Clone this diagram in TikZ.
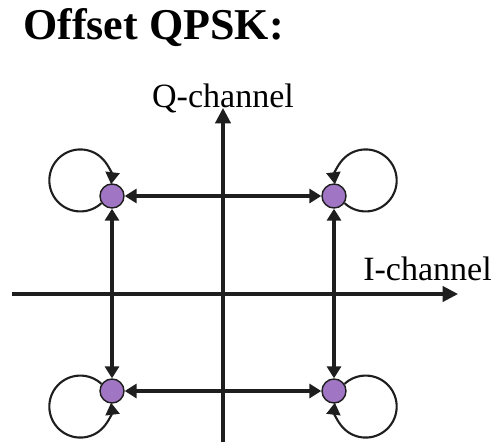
\documentclass[tikz,border=0pt]{standalone}
\usepackage{fontspec}
\setmainfont{Liberation Serif}
\usepackage{xcolor}
\usetikzlibrary{arrows.meta}
\definecolor{dotpurple}{HTML}{A076C4}
\definecolor{inkgray}{HTML}{1E1E1E}

\begin{document}
\begin{tikzpicture}[
  x=0.025cm, y=-0.025cm,
  dot/.style={circle, draw=inkgray, line width=1pt, fill=dotpurple,
              minimum size=0.6cm, inner sep=0pt},
  lbl/.style={font=\fontsize{24.2}{29}\selectfont, inner sep=0pt},
  head/.style={font=\bfseries\fontsize{31.3}{37}\selectfont, inner sep=0pt},
  axis/.style={-{Triangle[length=11pt, width=11pt]}, line width=2.2pt, color=inkgray},
  link/.style={{Triangle[length=8.5pt, width=10pt]}-{Triangle[length=8.5pt, width=10pt]},
               line width=2.2pt, color=inkgray},
  selfloop/.style={-{Triangle[length=8.5pt, width=10pt]}, line width=1.5pt, color=inkgray}
]
\useasboundingbox (0,0) rectangle (493,442);

% Title and axis labels
\node[head, anchor=base west] (title) at (23,39) {Offset QPSK:};
\node[lbl, anchor=base] (qlab) at (223,107) {Q-channel};
\node[lbl, anchor=base west] (ilab) at (363,280) {I-channel};

% Axes
\coordinate (istart) at (12,294);
\coordinate (iend) at (458,294);
\coordinate (qstart) at (223,442);
\coordinate (qend) at (223,108);
\draw[axis] (istart) -- (iend);
\draw[axis] (qstart) -- (qend);

% Constellation points
\node[dot] (tl) at (112,196) {};
\node[dot] (tr) at (334,196) {};
\node[dot] (bl) at (112,391) {};
\node[dot] (br) at (334,391) {};

% Transitions
\draw[link] (tl) -- (tr); \draw[link] (bl) -- (br);
\draw[link] (tl) -- (bl); \draw[link] (tr) -- (br);
% Self loops
\draw[selfloop] (tl.214) arc[start angle=47, end angle=367, radius=31];
\draw[selfloop] (tr.326) arc[start angle=133, end angle=-187, radius=31];
\draw[selfloop] (bl.146) arc[start angle=-47, end angle=-367, radius=31];
\draw[selfloop] (br.34) arc[start angle=-133, end angle=187, radius=31];
\end{tikzpicture}
\end{document}
